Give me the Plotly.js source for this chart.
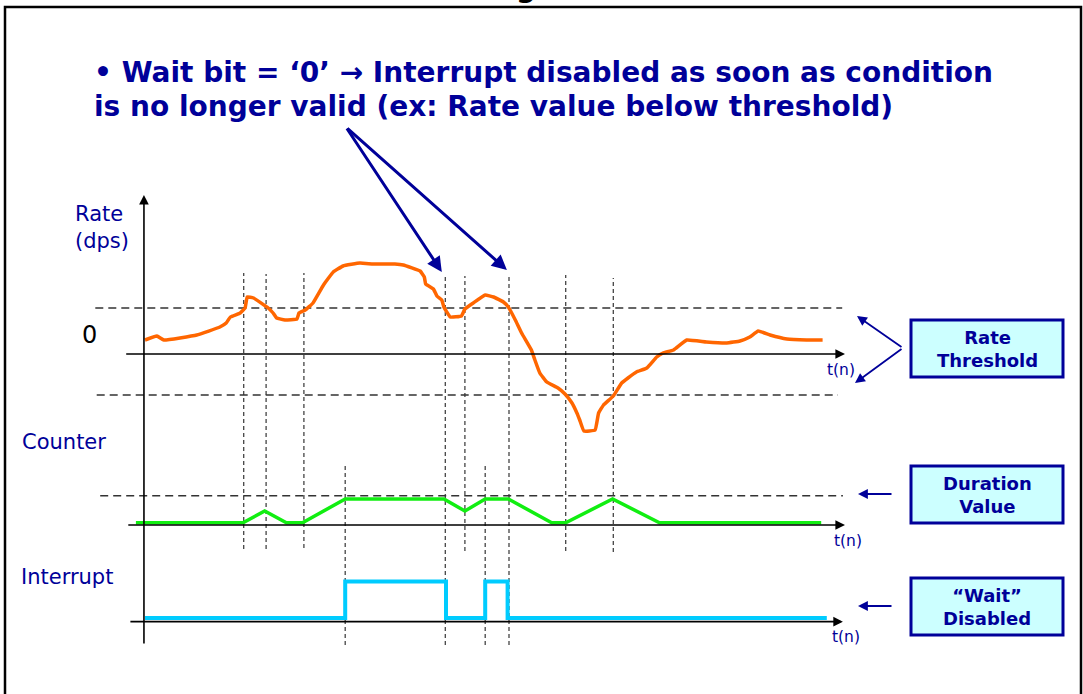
<!DOCTYPE html>
<html><head><meta charset="utf-8">
<script src="https://cdn.plot.ly/plotly-3.0.1.min.js"></script>
<style>html,body{margin:0;padding:0;background:#fff;overflow:hidden}</style>
</head><body><div id="chart" style="width:1083px;height:694px"></div>
<script>
// ---------------- data ----------------
const rateT = [0,1.7,2.7,7.4,10.7,11.6,12.2,13.6,14.3,14.6,15.5,17.6,18.3,18.8,20.0,21.7,22.0,22.9,24.0,25.5,26.9,28.3,30.7,32.6,34.8,35.7,36.9,39.3,39.9,40.1,41.2,41.7,42.4,42.7,43.6,45.2,45.7,46.9,48.6,49.8,51.2,51.9,52.9,53.8,55.2,55.7,56.4,57.4,59.0,60.0,61.0,61.7,62.1,62.7,64.3,64.8,65.5,66.9,68.1,69.0,70.2,71.7,73.1,74.0,75.5,77.4,80.2,83.1,85.0,86.4,87.6,89.3,91.7,94.5,96.8];
const rateV = [14,18,14,19,27,31,37,41,46,57,56,46,41,36,34,35,41,44,51,69,82,88,91,90,90,90,89,83,77,70,65,58,54,47,37,38,45,51,59,57,52,47,34,21,4,-6,-19,-28,-34,-40,-49,-59,-66,-77,-76,-59,-51,-42,-29,-24,-18,-14,-3,1,4,14,12,11,13,17,23,19,15,14,14];
const counterT = [-1.3,14.0,17.1,20.2,22.5,28.6,42.7,45.7,48.6,51.9,58.1,60.1,66.8,73.5,96.6];
const counterV = [0.7,0.7,4.3,0.7,0.7,8,8,4.3,8,8,0.7,0.7,8,0.7,0.7];
const interruptT = [0,28.6,43.0,48.6,51.8,97.4];
const interruptV = [0,1,0,1,0,0];
const rateThresholdHigh = 46;
const rateThresholdLow = -41;
const durationValue = 9;
const crossingTimes = [14.1,17.3,22.7,42.9,45.7,52.0,60.1,66.9];
const durationReachedTimes = [28.6,48.6];
const axisEnd = 100;

// ---------------- layout helpers ----------------
const W = 1083, H = 694;
const X = p => p / W;
const Y = p => 1 - p / H;
const NAVY = '#000099';
const FONT = 'DejaVu Sans, Verdana, sans-serif';

const traces = [
  {x: rateT, y: rateV, type: 'scatter', mode: 'lines', yaxis: 'y',
   line: {color: '#FF6600', width: 3.5, shape: 'spline', smoothing: 0.3}, hoverinfo: 'skip'},
  {x: counterT, y: counterV, type: 'scatter', mode: 'lines', yaxis: 'y2',
   line: {color: '#11EE11', width: 3.5}, hoverinfo: 'skip'},
  {x: interruptT, y: interruptV, type: 'scatter', mode: 'lines', yaxis: 'y3',
   line: {color: '#00CCFF', width: 4, shape: 'hv'}, hoverinfo: 'skip'}
];

const shapes = [];
// vertical guides (top/bottom in page pixels)
const guideExtents = [[273,549],[274,549],[273,548],[275,645],[276,551],[275,645],[275,551],[278,552]];
crossingTimes.forEach((t, i) => {
  shapes.push({type: 'line', layer: 'below', xref: 'x', yref: 'paper', x0: t, x1: t,
    y0: Y(guideExtents[i][1]), y1: Y(guideExtents[i][0]),
    line: {color: '#444', width: 1.3, dash: '4px,3px'}});
});
durationReachedTimes.forEach(t => {
  shapes.push({type: 'line', layer: 'below', xref: 'x', yref: 'paper', x0: t, x1: t,
    y0: Y(645), y1: Y(465), line: {color: '#444', width: 1.3, dash: '4px,3px'}});
});
// horizontal thresholds
shapes.push({type: 'line', layer: 'below', xref: 'x', yref: 'y', x0: -7.1, x1: 99.6,
  y0: rateThresholdHigh, y1: rateThresholdHigh, line: {color: '#333', width: 1.3, dash: '8px,5px'}});
shapes.push({type: 'line', layer: 'below', xref: 'x', yref: 'y', x0: -6.9, x1: 99.0,
  y0: rateThresholdLow, y1: rateThresholdLow, line: {color: '#333', width: 1.3, dash: '8px,5px'}});
shapes.push({type: 'line', layer: 'below', xref: 'x', yref: 'y2', x0: -6.4, x1: 99.7,
  y0: durationValue, y1: durationValue, line: {color: '#333', width: 1.3, dash: '8px,5px'}});
// label boxes
[[320,377],[466,523],[578,635]].forEach(b => {
  shapes.push({type: 'rect', xref: 'paper', yref: 'paper', x0: X(911), x1: X(1063),
    y0: Y(b[1]), y1: Y(b[0]), fillcolor: '#CCFFFF', line: {color: NAVY, width: 3}});
});
// slide frame
shapes.push({type: 'rect', xref: 'paper', yref: 'paper', x0: X(5), x1: X(1081), y0: Y(720), y1: Y(7),
  line: {color: '#000', width: 2.5}, fillcolor: 'rgba(0,0,0,0)'});

const ann = [];
function axisArrow(x, y, ax, ay, yref) {
  ann.push({x: x, y: y, xref: 'x', yref: yref, ax: ax, ay: ay, axref: 'x', ayref: yref,
    text: '', showarrow: true, arrowhead: 2, arrowsize: 1.2, arrowwidth: 1.6, arrowcolor: '#000'});
}
axisArrow(-0.15, 159, -0.15, -291, 'y');       // vertical time-line axis
axisArrow(axisEnd, 0, -2.9, 0, 'y');           // rate t(n)
axisArrow(axisEnd, 0, -2.6, 0, 'y2');          // counter t(n)
axisArrow(axisEnd - 0.3, -0.1, -2.3, -0.1, 'y3'); // interrupt t(n)

// callout arrows from the bullet text to the disable instants
[[crossingTimes[3] - 0.5, 82], [crossingTimes[5] - 0.3, 84]].forEach(p => {
  ann.push({x: p[0], y: p[1], xref: 'x', yref: 'y', ax: 28.7, ay: 227, axref: 'x', ayref: 'y',
    text: '', showarrow: true, arrowhead: 2, arrowsize: 1, arrowwidth: 3, arrowcolor: NAVY});
});
// side arrows
function sideArrow(tx, ty, ax, ay) {
  ann.push({x: X(tx), y: Y(ty), xref: 'paper', yref: 'paper', ax: ax, ay: ay,
    text: '', showarrow: true, arrowhead: 2, arrowsize: 1.1, arrowwidth: 1.8, arrowcolor: NAVY});
}
sideArrow(857, 316, 46, 32);
sideArrow(855, 383, 48, -35);
sideArrow(858, 494, 35, 0);
sideArrow(858, 606, 35, 0);

function txt(text, px, py, size, opts) {
  ann.push(Object.assign({x: X(px), y: Y(py), xref: 'paper', yref: 'paper', text: text,
    showarrow: false, xanchor: 'center', yanchor: 'middle',
    font: {family: FONT, size: size, color: NAVY}}, opts || {}));
}
txt('<b>• Wait bit = ‘0’ → Interrupt disabled as soon as condition</b>', 92, 73, 28, {xanchor: 'left'});
txt('<b>is no longer valid (ex: Rate value below threshold)</b>', 92, 106, 28, {xanchor: 'left'});
txt('Rate<br>(dps)', 73, 227, 21, {xanchor: 'left', align: 'left'});
txt('0', 89, 335, 24, {font: {family: FONT, size: 24, color: '#000'}});
txt('Counter', 20, 442, 21, {xanchor: 'left'});
txt('Interrupt', 19, 577, 21, {xanchor: 'left'});
txt('t(n)', 841, 370, 15.5);
txt('t(n)', 848, 541, 15.5);
txt('t(n)', 846, 637, 15.5);
txt('<b>Rate</b><br><b>Threshold</b>', 987, 349, 18);
txt('<b>Duration</b><br><b>Value</b>', 987, 495, 18);
txt('<b>“Wait”</b><br><b>Disabled</b>', 987, 607, 18);
txt('<b>g</b>', 526, 6, 28, {yanchor: 'bottom', font: {family: FONT, size: 28, color: '#000'}});

const layout = {
  width: W, height: H, autosize: false,
  margin: {l: 0, r: 0, t: 0, b: 0, pad: 0},
  paper_bgcolor: '#fff', plot_bgcolor: 'rgba(0,0,0,0)',
  showlegend: false,
  xaxis: {range: [-145 / 7, (W - 145) / 7], visible: false, fixedrange: true},
  yaxis: {range: [354 - H, 354], visible: false, fixedrange: true},
  yaxis2: {range: [(525 - H) / 3.25, 525 / 3.25], overlaying: 'y', visible: false, fixedrange: true},
  yaxis3: {range: [(618 - H) / 36.4, 618 / 36.4], overlaying: 'y', visible: false, fixedrange: true},
  shapes: shapes,
  annotations: ann
};
Plotly.newPlot('chart', traces, layout, {displayModeBar: false, staticPlot: true});
</script></body></html>
